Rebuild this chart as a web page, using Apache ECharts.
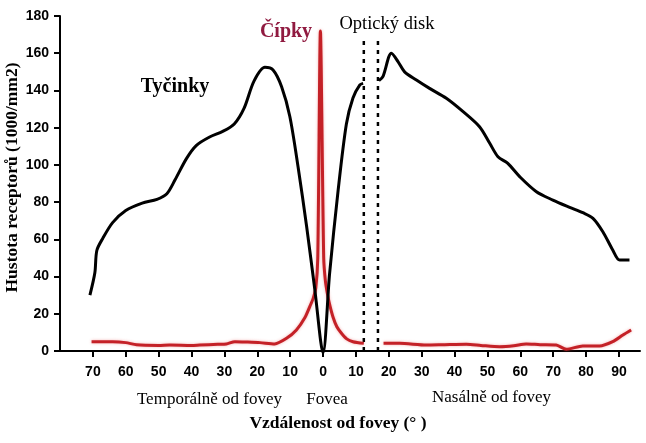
<!DOCTYPE html>
<html><head><meta charset="utf-8">
<script src="https://cdn.jsdelivr.net/npm/echarts@6/dist/echarts.min.js"></script>
<style>html,body{margin:0;padding:0;background:#fff}#c{width:646px;height:443px}</style>
</head><body><div id="c"></div>
<script>
// Rods (Tyčinky) – negative x = temporal side, positive x = nasal side; null = optic disc gap
const rodX = [-70.9,-69.4,-68.8,-67,-64,-60,-55,-50.5,-47.5,-45,-41.5,-38.5,-34.5,-30.5,-27,-24,-21,-17.7,-15.2,-12.6,-10.1,-7.6,-5,-2.5,0,
              2,4.6,7.1,9.1,11.2,12.2,14.5,17,18.2,20.8,22.8,24.8,28.4,32.4,37.5,42.6,47.6,50.7,53.2,56.2,59.8,64.9,69.9,75,79,82.1,85.1,88.1,90.2,93.2];
const rodY = [30,42,54,60.5,69,75.5,79.5,81.5,84.5,92,103.5,110.5,115,118,122,130.5,145,152.4,151,142,126,99,67,33,-1,
              41.7,86.5,122,136,143,143.8,null,145.3,147.4,160,155.5,150,145.6,141.1,135.8,128.6,120.5,111.6,104.4,100.8,93.7,85.6,81.1,77.2,74.3,71.3,64.1,54.3,48.9,48.9];
// Cones (Čípky)
const coneX = [-70.4,-64,-60,-56.7,-50,-46.6,-40,-37.5,-32,-29.4,-26.8,-23,-19.2,-14.7,-11.1,-8.1,-5.5,-4,-3,-2.2,-1.6,-0.8,0.2,0.7,1.3,2,3,4.2,5.6,7.2,9.1,12.4,
               15,18.4,23.3,31.4,37,43.6,48,53.7,58,61.8,66,70.9,74,79,84.1,88.1,91.2,93.7];
const coneY = [5,5,4.5,3.3,3,3.2,3,3.2,3.6,3.8,5,4.8,4.5,3.8,6.8,11.3,18,24,28.3,34,50,172,50,38,31,25,18.4,13,9.5,6.5,5,4.1,
               null,4.1,4.1,3.2,3.4,3.6,3,2.3,2.8,3.8,3.4,3.2,0.9,2.7,2.7,5,8.6,11.3];
// Optic disc boundaries
const discX = [12.4, 16.7];
const discTop = 167;
// Axis ticks
const xTicks = [-70,-60,-50,-40,-30,-20,-10,0,10,20,30,40,50,60,70,80,90];

const pairs = (xs, ys) => xs.map((x, i) => [x, ys[i] === null ? '-' : ys[i]]);
const serif = "'Liberation Serif','Times New Roman',serif";
const sans = "'Liberation Sans',Arial,sans-serif";

const chart = echarts.init(document.getElementById('c'), null, {renderer: 'canvas'});
chart.setOption({
  animation: false,
  backgroundColor: '#fff',
  grid: {left: 60, right: 6, top: 16, bottom: 92},
  xAxis: {
    type: 'value', min: -80, max: 96.4,
    splitLine: {show: false},
    axisLine: {show: true, onZero: false, lineStyle: {color: '#000', width: 2}},
    axisTick: {show: true, customValues: xTicks, length: 6, lineStyle: {color: '#000', width: 2}},
    axisLabel: {customValues: xTicks, formatter: v => String(Math.abs(v)), color: '#000',
      fontFamily: sans, fontWeight: 'bold', fontSize: 14, margin: 14}
  },
  yAxis: {
    type: 'value', min: 0, max: 180, interval: 20,
    splitLine: {show: false},
    axisLine: {show: true, onZero: false, lineStyle: {color: '#000', width: 2}},
    axisTick: {show: true, length: 6, lineStyle: {color: '#000', width: 2}},
    axisLabel: {color: '#000', fontFamily: sans, fontWeight: 'bold', fontSize: 14, margin: 11}
  },
  series: [
    {type: 'line', data: [[discX[0], 0], [discX[0], discTop]], symbol: 'none', silent: true,
     lineStyle: {color: '#000', width: 2.5, type: [4, 5]}},
    {type: 'line', data: [[discX[1], 0], [discX[1], discTop]], symbol: 'none', silent: true,
     lineStyle: {color: '#000', width: 2.5, type: [4, 5]}},
    {name: 'Čípky', type: 'line', data: pairs(coneX, coneY), symbol: 'none', smooth: 0.25,
     connectNulls: false, clip: false,
     lineStyle: {color: '#c42127', width: 3, shadowColor: 'rgba(230,80,80,0.45)', shadowBlur: 3}},
    {name: 'Tyčinky', type: 'line', data: pairs(rodX, rodY), symbol: 'none', smooth: 0.3,
     connectNulls: false, clip: false,
     lineStyle: {color: '#000', width: 3}}
  ],
  graphic: [
    {type: 'text', x: 175, y: 87, style: {text: 'Tyčinky', font: "bold 20px " + serif, fill: '#000', align: 'center', verticalAlign: 'middle'}},
    {type: 'text', x: 286, y: 31.5, style: {text: 'Čípky', font: "bold 20px " + serif, fill: '#901a40', align: 'center', verticalAlign: 'middle'}},
    {type: 'text', x: 387, y: 24.5, style: {text: 'Optický disk', font: "18.5px " + serif, fill: '#000', align: 'center', verticalAlign: 'middle'}},
    {type: 'text', x: 209.5, y: 400, style: {text: 'Temporálně od fovey', font: "17px " + serif, fill: '#000', align: 'center', verticalAlign: 'middle'}},
    {type: 'text', x: 327, y: 400, style: {text: 'Fovea', font: "17px " + serif, fill: '#000', align: 'center', verticalAlign: 'middle'}},
    {type: 'text', x: 491.5, y: 397.5, style: {text: 'Nasálně od fovey', font: "17px " + serif, fill: '#000', align: 'center', verticalAlign: 'middle'}},
    {type: 'text', x: 338, y: 423.5, style: {text: 'Vzdálenost od fovey (° )', font: "bold 17.5px " + serif, fill: '#000', align: 'center', verticalAlign: 'middle'}},
    {type: 'text', x: 12.5, y: 177.5, rotation: Math.PI / 2,
     style: {text: 'Hustota receptorů (1000/mm2)', font: "bold 17.5px " + serif, fill: '#000', align: 'center', verticalAlign: 'middle'}}
  ]
});
</script>
</body></html>
